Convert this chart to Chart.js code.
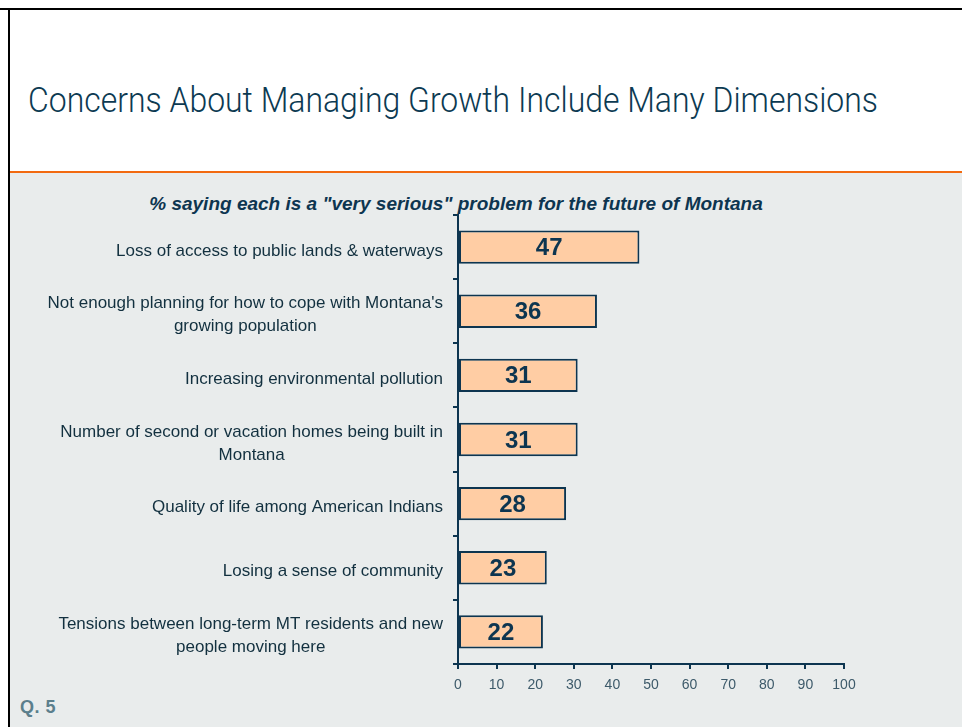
<!DOCTYPE html>
<html>
<head>
<meta charset="utf-8">
<script src="https://cdn.jsdelivr.net/npm/chart.js@4.4.1/dist/chart.umd.min.js"></script>
<style>
  html, body { margin: 0; padding: 0; background: #ffffff; }
  #page { position: relative; width: 962px; height: 727px; overflow: hidden; background: #ffffff; }
  #gray { position: absolute; left: 10px; top: 173px; width: 952px; height: 554px; background: #e9ecec; }
  #orange { position: absolute; left: 10px; top: 171px; width: 952px; height: 2px; background: #f26a10; }
  #btop { position: absolute; left: 0; top: 8px; width: 962px; height: 2px; background: #000; z-index: 5; }
  #bleft { position: absolute; left: 8px; top: 8px; width: 2px; height: 719px; background: #000; z-index: 5; }
  #title { position: absolute; left: 28px; top: 81px; font-family: Roboto, "Open Sans", sans-serif; font-weight: 300; font-size: 35px; color: #0c3a52; white-space: nowrap; transform-origin: 0 0; line-height: 40px; }
  #subtitle { position: absolute; left: 0; width: 912px; top: 192px; text-align: center; font-family: "Liberation Sans", Arial, sans-serif; font-weight: bold; font-style: italic; font-size: 19px; color: #0d3550; white-space: nowrap; line-height: 24px; }
  #q5 { position: absolute; left: 20px; top: 697px; font-family: "Liberation Sans", Arial, sans-serif; font-weight: bold; font-size: 18px; letter-spacing: 0.5px; color: #5b7f8c; line-height: 20px; }
  #wrap { position: absolute; left: 0; top: 173px; width: 962px; height: 554px; }
</style>
</head>
<body>
<div id="page">
  <div id="gray"></div>
  <div id="orange"></div>
  <div id="btop"></div>
  <div id="bleft"></div>
  <div id="title">Concerns About Managing Growth Include Many Dimensions</div>
  <div id="subtitle">% saying each is a "very serious" problem for the future of Montana</div>
  <div id="q5">Q. 5</div>
  <div id="wrap"><canvas id="c" width="962" height="554"></canvas></div>
</div>
<script>
const categories = [
  ["Loss of access to public lands & waterways"],
  ["Not enough planning for how to cope with Montana's", "growing population"],
  ["Increasing environmental pollution"],
  ["Number of second or vacation homes being built in", "Montana"],
  ["Quality of life among American Indians"],
  ["Losing a sense of community"],
  ["Tensions between long-term MT residents and new", "people moving here"]
];
const values = [47, 36, 31, 31, 28, 23, 22];
const xTicks = [0, 10, 20, 30, 40, 50, 60, 70, 80, 90, 100];

// fit title width
(function(){
  const t = document.getElementById('title');
  const w = t.getBoundingClientRect().width;
  t.style.transform = 'scaleX(' + (850 / w) + ')';
})();

const DARK = '#0d3550';

const labelPlugin = {
  id: 'labels',
  afterDatasetsDraw(chart) {
    const ctx = chart.ctx;
    const meta = chart.getDatasetMeta(0);
    ctx.save();
    ctx.font = 'bold 24px "Liberation Sans", Arial, sans-serif';
    ctx.fillStyle = DARK;
    ctx.textAlign = 'center';
    ctx.textBaseline = 'middle';
    meta.data.forEach((bar, i) => {
      ctx.fillText(String(values[i]), (bar.x + bar.base) / 2, bar.y + 1.5);
    });
    // category labels: block right-aligned, lines centered within block
    const yScale = chart.scales.y;
    ctx.font = '17px "Liberation Sans", Arial, sans-serif';
    ctx.fillStyle = '#12303f';
    const right = 443;
    const lh = 23;
    categories.forEach((lines, i) => {
      const cy = yScale.getPixelForValue(i);
      const bw = Math.max(...lines.map(l => ctx.measureText(l).width));
      const cx = right - bw / 2;
      const startY = cy - (lines.length - 1) * lh / 2 + 4;
      lines.forEach((l, j) => ctx.fillText(l, cx, startY + j * lh));
    });
    ctx.restore();
  }
};

new Chart(document.getElementById('c'), {
  type: 'bar',
  data: {
    labels: categories,
    datasets: [{
      data: values,
      backgroundColor: '#ffcda4',
      borderColor: DARK,
      borderWidth: 2,
      borderSkipped: false,
      categoryPercentage: 1,
      barPercentage: 0.52
    }]
  },
  options: {
    indexAxis: 'y',
    responsive: false,
    animation: false,
    devicePixelRatio: 1,
    layout: { padding: { top: 42, right: 118, bottom: 23, left: 0 } },
    plugins: { legend: { display: false }, tooltip: { enabled: false } },
    scales: {
      x: {
        min: 0, max: 100,
        afterBuildTicks(s) { s.ticks = xTicks.map(v => ({ value: v })); },
        afterFit(s) { s.height = 40; },
        ticks: { color: '#3d5a6a', font: { family: '"Liberation Sans", Arial, sans-serif', size: 14 }, padding: 8, maxRotation: 0 },
        grid: { drawOnChartArea: false, drawTicks: true, tickLength: 5, color: DARK, lineWidth: 2 },
        border: { display: true, color: DARK, width: 2 }
      },
      y: {
        afterFit(s) { s.width = 458; },
        ticks: { display: false },
        grid: { offset: true, drawOnChartArea: false, drawTicks: true, tickLength: 5, color: DARK, lineWidth: 2 },
        border: { display: true, color: DARK, width: 2 }
      }
    }
  },
  plugins: [labelPlugin]
});
</script>
</body>
</html>
